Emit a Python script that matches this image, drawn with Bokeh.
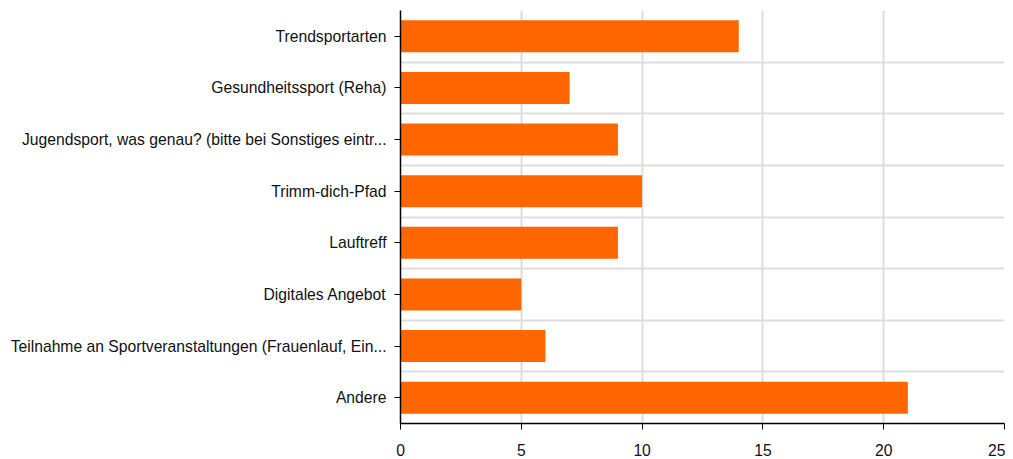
from bokeh.plotting import figure
from bokeh.models import Range1d, FixedTicker
from bokeh.embed import file_html
from bokeh.resources import INLINE

categories = [
    "Trendsportarten",
    "Gesundheitssport (Reha)",
    "Jugendsport, was genau? (bitte bei Sonstiges eintr...",
    "Trimm-dich-Pfad",
    "Lauftreff",
    "Digitales Angebot",
    "Teilnahme an Sportveranstaltungen (Frauenlauf, Ein...",
    "Andere",
]
values = [14, 7, 9, 10, 9, 5, 6, 21]
x_ticks = [0, 5, 10, 15, 20, 25]

n = len(categories)
y_pos = [i + 0.5 for i in range(n)]

p = figure(width=1005, height=451, output_backend="svg", toolbar_location=None,
           x_range=Range1d(0, 25), y_range=Range1d(n, 0),
           min_border_left=400, min_border_right=1, min_border_top=10, min_border_bottom=28)
p.frame_width = 604
p.frame_height = 413

p.hbar(y=y_pos, right=values, left=0, height=0.62, color="#FF6600", line_color=None)

FONT = "Liberation Sans"
p.xaxis.ticker = FixedTicker(ticks=x_ticks)
p.yaxis.ticker = FixedTicker(ticks=y_pos)
p.yaxis.major_label_overrides = {y: c for y, c in zip(y_pos, categories)}
p.xgrid.ticker = FixedTicker(ticks=x_ticks)
p.ygrid.ticker = FixedTicker(ticks=list(range(n + 1)))
for g in (p.xgrid, p.ygrid):
    g.grid_line_color = "#dddddd"
    g.grid_line_width = 2

for ax in (p.xaxis, p.yaxis):
    ax.axis_line_color = "black"
    ax.axis_line_width = 1.5
    ax.major_tick_line_color = "black"
    ax.major_tick_line_width = 1
    ax.major_tick_in = 0
    ax.major_tick_out = 6
    ax.minor_tick_line_color = None
    ax.major_label_text_font = FONT
    ax.major_label_text_font_size = "15.7px"
    ax.major_label_text_color = "#111111"
p.xaxis.major_label_standoff = 14
p.yaxis.major_label_standoff = 8
p.outline_line_color = None

open("out.html", "w").write(file_html(p, INLINE))
